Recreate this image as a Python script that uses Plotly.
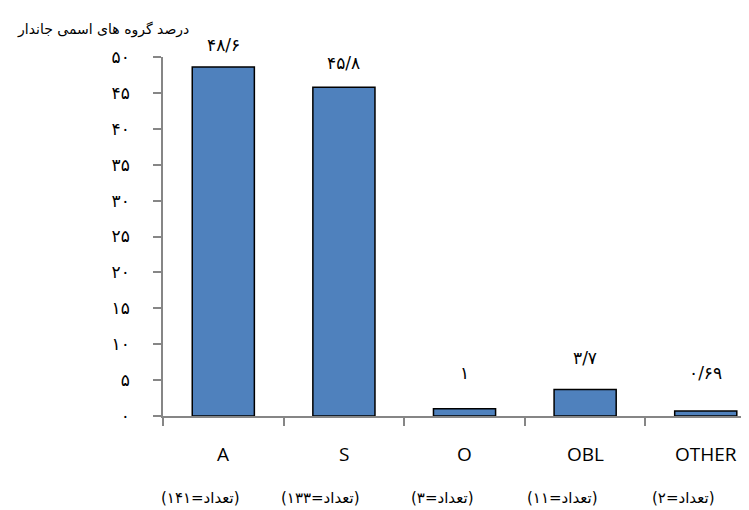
import plotly.graph_objects as go

categories = ["A", "S", "O", "OBL", "OTHER"]
values = [48.6, 45.8, 1, 3.7, 0.69]
counts = [141, 133, 3, 11, 2]
y_ticks = [0, 5, 10, 15, 20, 25, 30, 35, 40, 45, 50]
title_text = "درصد گروه های اسمی جاندار"

# style: vertical pixel offsets of the value labels above each bar
label_shift = [22, 24, 36, 31, 38]

FA = str.maketrans("0123456789.", "۰۱۲۳۴۵۶۷۸۹/")


def to_fa(v):
    return f"{v:g}".translate(FA)


fa_font = "DejaVu Sans"

fig = go.Figure()
fig.add_trace(go.Bar(
    x=categories,
    y=values,
    width=0.515,
    marker=dict(color="#4F81BD", line=dict(color="#000000", width=1.5)),
    hoverinfo="skip",
))

annotations = []
for c, v, s in zip(categories, values, label_shift):
    annotations.append(dict(
        x=c, y=v, xref="x", yref="y", text=to_fa(v), showarrow=False,
        yanchor="middle", yshift=s, font=dict(family=fa_font, size=17, color="#000"),
    ))
for c in categories:
    annotations.append(dict(
        x=c, y=0, xref="x", yref="paper", text=c, showarrow=False,
        yanchor="middle", yshift=-38, font=dict(family="Open Sans", size=19, color="#000"),
    ))
for c, n in zip(categories, counts):
    annotations.append(dict(
        x=c, y=0, xref="x", yref="paper", text="(تعداد=" + to_fa(n) + ")",
        showarrow=False, yanchor="middle", yshift=-82, xshift=-23,
        font=dict(family=fa_font, size=15, color="#000"),
    ))
annotations.append(dict(
    x=-0.249, y=1, xref="paper", yref="paper", text=title_text, showarrow=False,
    xanchor="left", yanchor="middle", yshift=28,
    font=dict(family=fa_font, size=14, color="#000"),
))

fig.update_layout(
    width=749, height=510,
    margin=dict(l=155, r=0, t=49, b=102, pad=0),
    paper_bgcolor="white", plot_bgcolor="white",
    showlegend=False,
    annotations=annotations,
    xaxis=dict(
        type="category", range=[-0.5, 4.425], showticklabels=False,
        showline=True, linecolor="#868686", linewidth=1.5,
        ticks="outside", tickson="boundaries", ticklen=8, tickcolor="#868686", tickwidth=1.5,
        showgrid=False, zeroline=False,
    ),
    yaxis=dict(
        range=[0, 50], tickvals=y_ticks, ticktext=[to_fa(t) for t in y_ticks],
        showline=True, linecolor="#868686", linewidth=1.5,
        ticks="outside", ticklen=8, tickcolor="#868686", tickwidth=1.5,
        ticklabelstandoff=20,
        tickfont=dict(family=fa_font, size=17, color="#000"),
        showgrid=False, zeroline=False,
    ),
)

fig.write_html("out.html")
